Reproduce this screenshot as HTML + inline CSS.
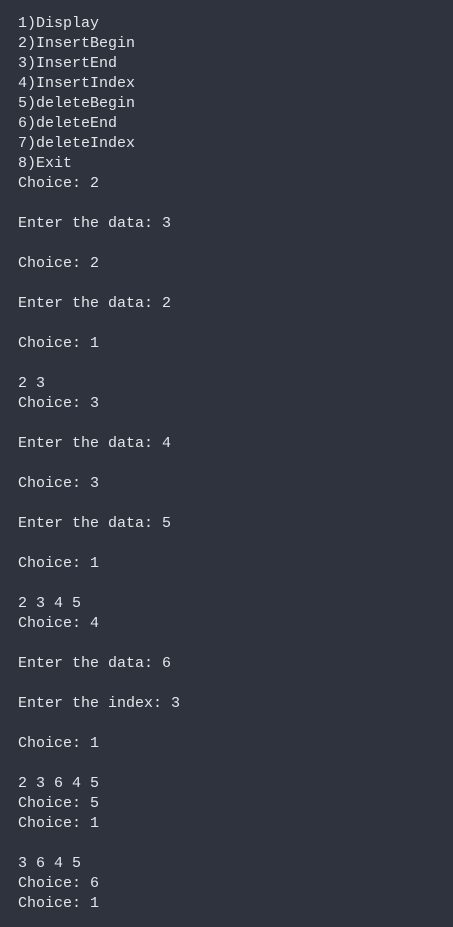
<!DOCTYPE html>
<html><head><style>
html,body{margin:0;padding:0;background:#2f333d;}
body{width:453px;height:927px;overflow:hidden;}
pre{margin:0;padding:14px 0 0 18px;font-family:"Liberation Mono",monospace;font-size:15px;line-height:20px;color:#e3e6ea;}
</style></head><body><pre>1)Display
2)InsertBegin
3)InsertEnd
4)InsertIndex
5)deleteBegin
6)deleteEnd
7)deleteIndex
8)Exit
Choice: 2

Enter the data: 3

Choice: 2

Enter the data: 2

Choice: 1

2 3
Choice: 3

Enter the data: 4

Choice: 3

Enter the data: 5

Choice: 1

2 3 4 5
Choice: 4

Enter the data: 6

Enter the index: 3

Choice: 1

2 3 6 4 5
Choice: 5
Choice: 1

3 6 4 5
Choice: 6
Choice: 1</pre></body></html>
